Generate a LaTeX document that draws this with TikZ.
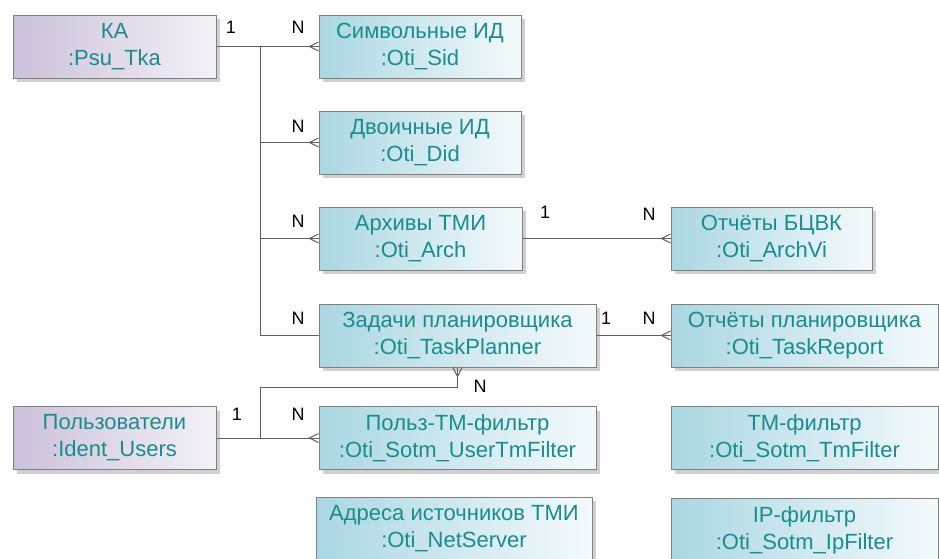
\documentclass[tikz,border=0pt]{standalone}
\usepackage{fontspec}
\setmainfont{Liberation Sans}
\usetikzlibrary{shadows}
\definecolor{tealtxt}{RGB}{26,140,140}
\definecolor{bluel}{RGB}{170,215,226}
\definecolor{bluer}{RGB}{244,250,252}
\definecolor{lavl}{RGB}{203,193,218}
\definecolor{lavr}{RGB}{244,241,247}
\definecolor{edgec}{RGB}{128,128,128}
\definecolor{conn}{RGB}{95,95,95}
\tikzset{
 ent/.style={draw=edgec, line width=1pt, rectangle, align=center, text=tealtxt,
   font=\fontsize{22}{27}\selectfont, inner sep=0pt,
   drop shadow={shadow xshift=4pt, shadow yshift=-4pt, fill=black!30, opacity=0.6}},
 bl/.style={ent, left color=bluel, right color=bluer},
 lv/.style={ent, left color=lavl, right color=lavr},
 card/.style={font=\fontsize{18}{18}\selectfont, text=black, inner sep=0pt},
 cl/.style={draw=conn, line width=1pt},
}
\begin{document}
\begin{tikzpicture}[x=1pt,y=-1pt]
\useasboundingbox[fill=white] (0,0) rectangle (939,558);
% entities
\node[lv, minimum width=203pt, minimum height=63pt] (ka) at (114.5,46.5) {КА\\:Psu\_Tka};
\node[bl, minimum width=202pt, minimum height=63pt] (sid) at (420,46.5) {Символьные ИД\\:Oti\_Sid};
\node[bl, minimum width=202pt, minimum height=63pt] (did) at (420,142.5) {Двоичные ИД\\:Oti\_Did};
\node[bl, minimum width=203pt, minimum height=63pt] (arch) at (420.5,238.5) {Архивы ТМИ\\:Oti\_Arch};
\node[bl, minimum width=201pt, minimum height=63pt] (archvi) at (771.5,238.5) {Отчёты БЦВК\\:Oti\_ArchVi};
\node[bl, minimum width=277pt, minimum height=63pt] (tp) at (457.5,335.5) {Задачи планировщика\\:Oti\_TaskPlanner};
\node[bl, minimum width=267pt, minimum height=63pt] (tr) at (804.5,335.5) {Отчёты планировщика\\:Oti\_TaskReport};
\node[lv, minimum width=203pt, minimum height=63pt] (users) at (114.5,438) {Пользователи\\:Ident\_Users};
\node[bl, minimum width=277pt, minimum height=63pt] (utf) at (457.5,438) {Польз-ТМ-фильтр\\:Oti\_Sotm\_UserTmFilter};
\node[bl, minimum width=267pt, minimum height=63pt] (tmf) at (804.5,438) {ТМ-фильтр\\:Oti\_Sotm\_TmFilter};
\node[bl, minimum width=276pt, minimum height=64pt] (net) at (454,529) {Адреса источников ТМИ\\:Oti\_NetServer};
\node[bl, minimum width=267pt, minimum height=64pt] (ipf) at (804.5,530) {IP-фильтр\\:Oti\_Sotm\_IpFilter};
% junctions
\coordinate (j1) at (260,46.5);
\coordinate (j2) at (260,438);
\coordinate (k) at (260,387);
% connectors
\draw[cl] (ka.east) -- (sid.west);
\draw[cl] (j1) |- (did.west);
\draw[cl] (j1) |- (arch.west);
\draw[cl] (j1) |- (tp.west);
\draw[cl] (arch.east) -- (archvi.west);
\draw[cl] (tp.east) -- (tr.west);
\draw[cl] (users.east) -- (utf.west);
\draw[cl] (j2) -- (k) -| (tp.south);
% crow's feet
\foreach \n in {sid,did,arch,archvi,tr,utf}{
 \draw[cl] ([yshift=4.5pt]\n.west) -- ([xshift=-9pt]\n.west) -- ([yshift=-4.5pt]\n.west);
}
\draw[cl] ([xshift=-4.5pt]tp.south) -- ([yshift=-9pt]tp.south) -- ([xshift=4.5pt]tp.south);
% cardinalities
\node[card] (c1) at (231,27) {1};
\node[card] (c2) at (298,27) {N};
\node[card] (c3) at (298,126) {N};
\node[card] (c4) at (298,221) {N};
\node[card] (c5) at (545,212) {1};
\node[card] (c6) at (649,214) {N};
\node[card] (c7) at (298,318) {N};
\node[card] (c8) at (606,318) {1};
\node[card] (c9) at (649,318) {N};
\node[card] (c10) at (480,386) {N};
\node[card] (c11) at (237,414) {1};
\node[card] (c12) at (298,414) {N};
\end{tikzpicture}
\end{document}
